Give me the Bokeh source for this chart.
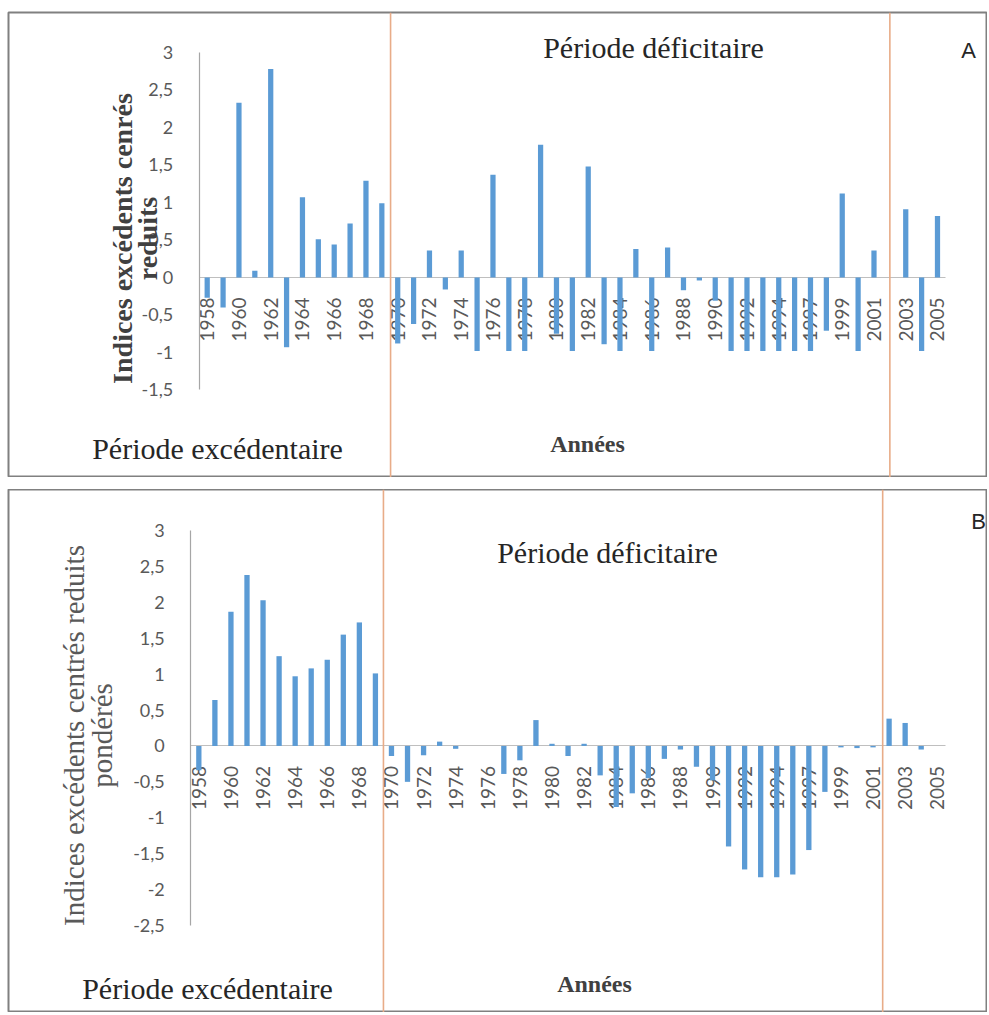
import math
from bokeh.plotting import figure
from bokeh.models import (ColumnDataSource, LinearAxis, FixedTicker, Span, Label,
                          Range1d, CustomJSTickFormatter)
from bokeh.layouts import column
from bokeh.embed import file_html
from bokeh.resources import INLINE

# ---------------- data ----------------
years = [str(y) for y in range(1958, 1995)] + ["1995"] + [str(y) for y in range(1997, 2006)]

indices_a = [-0.27, -0.40, 2.33, 0.09, 2.78, -0.93, 1.07, 0.51, 0.44, 0.72, 1.29, 0.99,
             -0.88, -0.62, 0.36, -0.16, 0.36, -0.98, 1.37, -0.98, -0.98, 1.77, -0.75, -0.98,
             1.48, -0.89, -0.98, 0.38, -0.98, 0.40, -0.17, -0.04, -0.31, -0.98, -0.98, -0.98,
             -0.98, -0.98, -0.98, -0.71, 1.12, -0.98, 0.36, 0.0, 0.91, -0.98, 0.82]

indices_b = [-0.34, 0.64, 1.87, 2.38, 2.03, 1.25, 0.97, 1.08, 1.20, 1.55, 1.72, 1.01,
             -0.14, -0.50, -0.13, 0.06, -0.04, 0.0, 0.0, -0.39, -0.20, 0.36, 0.03, -0.14,
             0.03, -0.41, -0.85, -0.66, -0.45, -0.18, -0.05, -0.29, -0.48, -1.40, -1.72, -1.83,
             -1.83, -1.79, -1.45, -0.64, -0.02, -0.03, -0.02, 0.38, 0.32, -0.05, 0.0]

yticks_a = [3, 2.5, 2, 1.5, 1, 0.5, 0, -0.5, -1, -1.5]
yticks_b = [3, 2.5, 2, 1.5, 1, 0.5, 0, -0.5, -1, -1.5, -2, -2.5]

# period boundaries (category positions)
bounds_a = [11.55, 43.0]
bounds_b = [11.5, 42.6]

BAR = "#5B9BD5"
ORANGE = "#E8AC88"
GRAY_TXT = "#595959"
AXIS = "#A6A6A6"
FIG_W = 987
LEFT = 8
FW = FIG_W - LEFT


def make_panel(vals, yticks, height, top_pad, xr, yr, bnds):
    n = len(vals)
    p = figure(width=FIG_W, height=height, x_range=Range1d(*xr), y_range=Range1d(*yr),
               output_backend="svg", toolbar_location=None,
               x_axis_type=None, y_axis_type=None,
               min_border_left=LEFT, min_border_right=0, min_border_top=top_pad,
               min_border_bottom=0)
    p.outline_line_color = "#808080"
    p.outline_line_width = 2
    p.background_fill_color = "white"
    p.border_fill_color = "white"

    src = ColumnDataSource(dict(x=list(range(n)), v=vals, yr=years))
    p.vbar(x="x", top="v", bottom=0, width=0.33, source=src,
           fill_color=BAR, line_color=None)

    xa = LinearAxis(fixed_location=0, bounds=(-0.5, n - 0.5),
                    ticker=FixedTicker(ticks=list(range(0, n, 2))),
                    formatter=CustomJSTickFormatter(args=dict(yrs=years),
                                                    code="return yrs[Math.round(tick)]"),
                    major_label_orientation=math.pi / 2,
                    major_tick_line_color=None, minor_tick_line_color=None,
                    axis_line_color="#BFBFBF", axis_line_width=1.2,
                    major_label_text_font="Lato", major_label_text_font_size="19px",
                    major_label_text_color=GRAY_TXT, major_label_standoff=14)
    xa.level = "underlay"
    p.add_layout(xa, "below")

    ya = LinearAxis(fixed_location=-0.5, bounds=(min(yticks), max(yticks)),
                    ticker=FixedTicker(ticks=yticks),
                    formatter=CustomJSTickFormatter(code="return String(tick).replace('.', ',')"),
                    major_tick_line_color=None, minor_tick_line_color=None,
                    axis_line_color=AXIS, axis_line_width=1.2,
                    major_label_text_font="Lato", major_label_text_font_size="18px",
                    major_label_text_color=GRAY_TXT, major_label_standoff=20)
    p.add_layout(ya, "left")

    for b in bnds:
        p.add_layout(Span(location=b, dimension="height", line_color=ORANGE, line_width=1.6))
    return p


# panel geometry (page pixels -> data)
A_top, A_h = 12, 465          # frame top / height in page pixels
A_xr = (-12.516, 49.15)
A_yr = (-2.667, 3.533)
B_top, B_h = 489, 523
B_xr = (-11.857, 49.13)
B_yr = (-3.712, 3.571)


def conv(px, py, xr, yr, top, h):
    x = xr[0] + (px - LEFT) / FW * (xr[1] - xr[0])
    y = yr[1] - (py - top) / h * (yr[1] - yr[0])
    return x, y


def add_text(p, px, py, text, geo, font="Liberation Serif", size="30px", style="normal",
             color="#262626", angle=0.0):
    x, y = conv(px, py, *geo)
    p.add_layout(Label(x=x, y=y, text=text, text_font=font, text_font_size=size,
                       text_font_style=style, text_color=color, text_align="center",
                       text_baseline="middle", angle=angle))


pA = make_panel(indices_a, yticks_a, A_top + A_h, A_top, A_xr, A_yr, bounds_a)
gA = (A_xr, A_yr, A_top, A_h)
add_text(pA, 653, 47, "Période déficitaire", gA)
add_text(pA, 968, 50, "A", gA, font="Liberation Sans", size="22px")
add_text(pA, 217, 448, "Période excédentaire", gA)
add_text(pA, 587, 443, "Années", gA, size="24px", style="bold", color="#404040")
add_text(pA, 122, 238, "Indices excédents cenrés", gA, size="28px", style="bold",
         color="#404040", angle=math.pi / 2)
add_text(pA, 147, 238, "reduits", gA, size="28px", style="bold",
         color="#404040", angle=math.pi / 2)

pB = make_panel(indices_b, yticks_b, B_h, 0, B_xr, B_yr, bounds_b)
gB = (B_xr, B_yr, B_top, B_h)
add_text(pB, 607, 552, "Période déficitaire", gB)
add_text(pB, 978, 521, "B", gB, font="Liberation Sans", size="22px")
add_text(pB, 207, 988, "Période excédentaire", gB)
add_text(pB, 594, 983, "Années", gB, size="24px", style="bold", color="#404040")
add_text(pB, 73, 735, "Indices excédents centrés reduits", gB, size="29px",
         color=GRAY_TXT, angle=math.pi / 2)
add_text(pB, 101, 735, "pondérés", gB, size="29px", color=GRAY_TXT, angle=math.pi / 2)

layout = column(pA, pB, spacing=12)
open("out.html", "w").write(file_html(layout, INLINE))
